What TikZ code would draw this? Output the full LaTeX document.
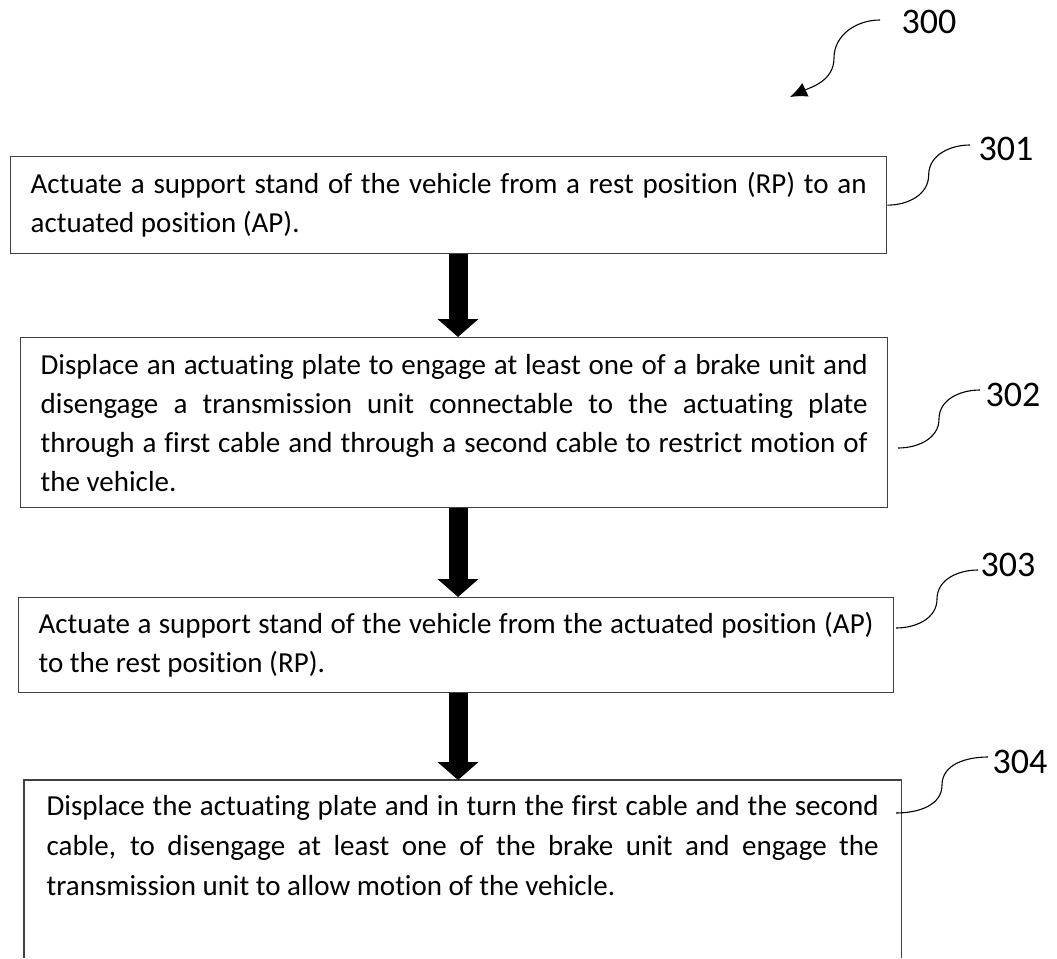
\documentclass[tikz,border=0pt]{standalone}
\usepackage{fontspec}
\setmainfont{Carlito}[Ligatures=NoCommon]
\usetikzlibrary{arrows.meta,calc}

\tikzset{
  stepbox/.style={draw=black!75, line width=1.3pt, anchor=north west, inner xsep=20pt,
    inner ysep=0pt, font=\fontsize{29}{39}\selectfont, align=justify},
  leader/.style={line width=1.1pt},
  blockarrow/.style={line width=19pt, -{Triangle[length=18pt,width=40pt]}},
  refnum/.style={font=\fontsize{36}{40}\selectfont, inner sep=0pt}
}

\begin{document}
\begin{tikzpicture}[x=1pt,y=-1pt]
			%%%%% START %%%%%
			\useasboundingbox (0,0) rectangle (1057,958);
			
			% steps
			\node[stepbox, text width=836pt, minimum height=97pt] (box1) at (10,156)
			  {Actuate a support stand of the vehicle from a rest position (RP) to an\linebreak actuated position (AP).};
			\node[stepbox, text width=827pt, minimum height=170pt] (box2) at (20,337)
			  {Displace an actuating plate to engage at least one of a brake unit and\linebreak disengage a transmission unit connectable to the actuating plate\linebreak through a first cable and through a second cable to restrict motion of\linebreak the vehicle.};
			\node[stepbox, text width=835pt, minimum height=95pt] (box3) at (18,597)
			  {Actuate a support stand of the vehicle from the actuated position (AP)\linebreak to the rest position (RP).};
			\node[stepbox, draw=none, text width=832pt, inner xsep=22pt, inner ysep=15pt,
			  font=\fontsize{29}{40}\selectfont] (box4) at (24,780)
			  {Displace the actuating plate and in turn the first cable and the second\linebreak cable, to disengage at least one of the brake unit and engage the\linebreak transmission unit to allow motion of the vehicle.};
			\coordinate (bot) at (0,958);
			\draw[draw=black!75, line width=1.3pt] (box4.north west |- bot) -- (box4.north west)
			  -- (box4.north east) -- (box4.north east |- bot);
			
			% arrows between steps
			\coordinate (arrx) at (458,0);
			\draw[blockarrow] (box1.south -| arrx) -- (box2.north -| arrx);
			\draw[blockarrow] (box2.south -| arrx) -- (box3.north -| arrx);
			\draw[blockarrow] (box3.south -| arrx) -- (box4.north -| arrx);
			
			% reference numerals
			\node[refnum] (l300) at (929,22) {300};
			\node[refnum] (l301) at (1006,149) {301};
			\node[refnum] (l302) at (1013,395) {302};
			\node[refnum] (l303) at (1008,565) {303};
			\node[refnum] (l304) at (1020,762) {304};
			
			\coordinate (c300a) at (880,20);
			\coordinate (c300m) at (834,58);
			\coordinate (c300b) at (790,97);
			\draw[leader, -{Latex[length=17pt,width=15pt]}] (c300a) to[out=180,in=90] (c300m)
			  to[out=-90,in=25] (c300b);
			
			\coordinate (c301) at (970,145);
			\draw[leader] (box1.east) to[out=0,in=-90] ($(box1.east)!0.5!(c301)$) to[out=90,in=180] (c301);
			
			\coordinate (c302a) at (898,448);
			\coordinate (c302b) at (980,390);
			\draw[leader] (c302a) to[out=0,in=-90] ($(c302a)!0.5!(c302b)$) to[out=90,in=180] (c302b);
			
			\coordinate (c303a) at (896,628);
			\coordinate (c303b) at (978,570);
			\draw[leader] (c303a) to[out=0,in=-90] ($(c303a)!0.5!(c303b)$) to[out=90,in=180] (c303b);
			
			\coordinate (c304a) at (896,813);
			\coordinate (c304b) at (988,757);
			\draw[leader] (c304a) to[out=0,in=-90] ($(c304a)!0.5!(c304b)$) to[out=90,in=180] (c304b);
			
			%%%%% END %%%%%
\end{tikzpicture}
\end{document}
